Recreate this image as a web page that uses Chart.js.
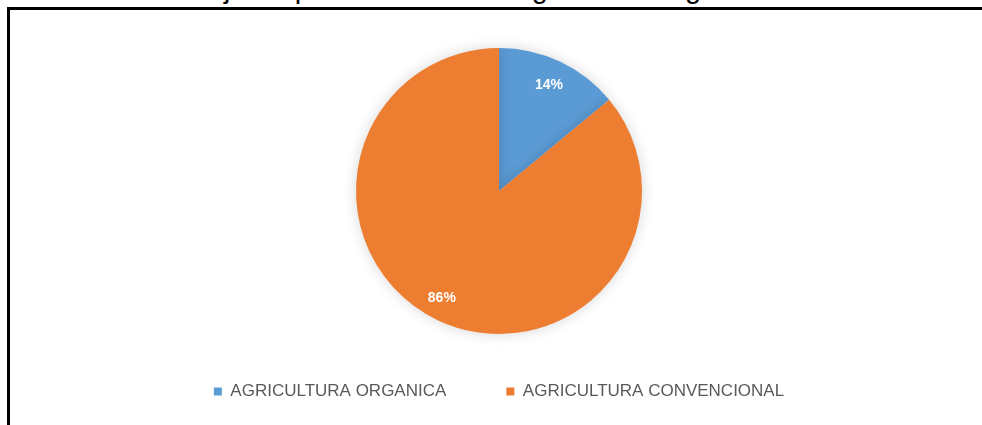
<!DOCTYPE html>
<html>
<head>
<meta charset="utf-8">
<script src="https://cdn.jsdelivr.net/npm/chart.js@4/dist/chart.umd.min.js"></script>
<style>
   html, body { margin: 0; padding: 0; background: #fff; overflow: hidden; }
   body { width: 982px; height: 425px; position: relative; }
   #title {
      position: absolute; left: 2px; top: -26px; white-space: nowrap;
      font-family: "Liberation Sans", Arial, sans-serif; font-size: 29px; line-height: 29px; color: #000;
   }
   #frame {
      position: absolute; left: 7px; top: 7px; width: 990px; height: 430px;
      border-left: 3px solid #000; border-top: 3px solid #000;
   }
   #wrap { position: absolute; left: 16px; top: 10px; width: 966px; height: 400px; }
</style>
</head>
<body>
<div id="title">Gráfico 11. Ventaja de producción de la agricultura orgánica versus convencional</div>
<div id="frame"></div>
<div id="wrap"><canvas id="pieChart"></canvas></div>
<script>
const categories = ['AGRICULTURA ORGANICA', 'AGRICULTURA CONVENCIONAL'];
const shares = [14, 86];
const sliceColors = ['#5B9BD5', '#ED7D31'];

// percentage text inside each slice
const sliceLabels = {
   id: 'sliceLabels',
   afterDatasetsDraw(chart) {
      const ctx = chart.ctx;
      const meta = chart.getDatasetMeta(0);
      ctx.save();
      ctx.font = 'bold 14px "Liberation Sans", Arial, sans-serif';
      ctx.fillStyle = '#ffffff';
      ctx.textAlign = 'center';
      ctx.textBaseline = 'middle';
      meta.data.forEach((arc, i) => {
         const p = arc.getProps(['x', 'y', 'startAngle', 'endAngle', 'outerRadius']);
         const mid = (p.startAngle + p.endAngle) / 2 + (i === 1 ? 0.05 : 0);
         const r = p.outerRadius * (i === 1 ? 0.85 : 0.82);
         ctx.fillText(shares[i] + '%', p.x + Math.cos(mid) * r, p.y + Math.sin(mid) * r);
      });
      ctx.restore();
   }
};

// soft glow around the pie
const pieShadow = {
   id: 'pieShadow',
   beforeDatasetsDraw(chart) {
      const ctx = chart.ctx;
      ctx.save();
      ctx.shadowColor = 'rgba(0,0,0,0.16)';
      ctx.shadowBlur = 14;
   },
   afterDatasetsDraw(chart) {
      chart.ctx.restore();
   }
};

new Chart(document.getElementById('pieChart'), {
   type: 'pie',
   data: {
      labels: categories,
      datasets: [{
         data: shares,
         backgroundColor: sliceColors,
         borderWidth: 0,
         radius: 143
      }]
   },
   options: {
      responsive: true,
      maintainAspectRatio: false,
      animation: false,
      layout: { padding: { top: 49, bottom: 0 } },
      plugins: {
         tooltip: { enabled: false },
         legend: {
            position: 'bottom',
            labels: {
               boxWidth: 8,
               boxHeight: 8,
               padding: 60,
               color: '#595959',
               font: { family: '"Liberation Sans", Arial, sans-serif', size: 17 }
            }
         }
      }
   },
   plugins: [pieShadow, sliceLabels]
});
</script>
</body>
</html>
